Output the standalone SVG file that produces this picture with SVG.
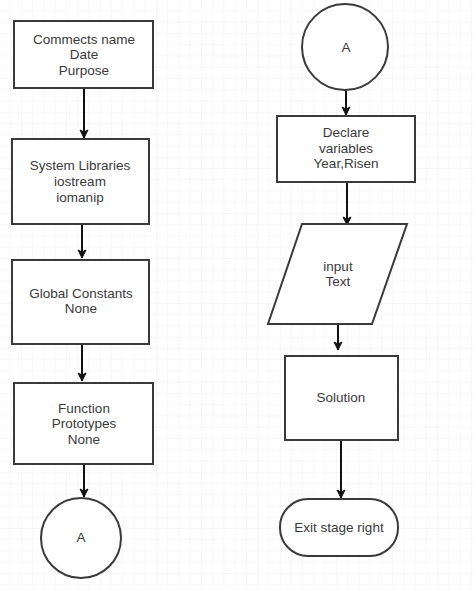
<svg xmlns="http://www.w3.org/2000/svg" width="474" height="590" viewBox="0 0 474 590">
<defs>
<pattern id="grid" width="11.25" height="11.25" patternUnits="userSpaceOnUse" x="9.75" y="10.5">
<path d="M0 0H11.25M0 0V11.25" fill="none" stroke="#efeff8" stroke-width="1"/>
</pattern>
<marker id="arr" markerWidth="10" markerHeight="10" refX="9" refY="5" orient="auto" markerUnits="userSpaceOnUse">
<path d="M1 1 L9 5 L1 9 L3 5 Z" fill="#111" stroke="#111" stroke-width="1" stroke-linejoin="round"/>
</marker>
</defs>
<style>
.n{fill:#fff;stroke:#3a3a3a;stroke-width:2}
.t{font-family:"Liberation Sans",Arial,sans-serif;font-size:13.5px;fill:#3a3a3a;text-anchor:middle}
.c{fill:none;stroke:#111;stroke-width:2;marker-end:url(#arr)}
</style>
<rect width="474" height="590" fill="#fff"/>
<rect width="474" height="590" fill="url(#grid)"/>
<g id="connectors">
<path class="c" d="M84 88V138"/>
<path class="c" d="M82 224V258"/>
<path class="c" d="M82 344V381"/>
<path class="c" d="M84 464V497"/>
<path class="c" d="M346 90V115"/>
<path class="c" d="M347 182V225"/>
<path class="c" d="M338 324V350"/>
<path class="c" d="M341 440V498"/>
</g>
<g id="n1"><rect class="n" x="14" y="21" width="139" height="67"/>
<text class="t" x="84" y="44">Commects name</text><text class="t" x="84" y="59">Date</text><text class="t" x="84" y="75">Purpose</text></g>
<g id="n2"><rect class="n" x="12" y="139" width="137" height="85"/>
<text class="t" x="80" y="170">System Libraries</text><text class="t" x="80" y="186">iostream</text><text class="t" x="80" y="202">iomanip</text></g>
<g id="n3"><rect class="n" x="12" y="260" width="137" height="84"/>
<text class="t" x="81" y="298">Global Constants</text><text class="t" x="81" y="313">None</text></g>
<g id="n4"><rect class="n" x="14" y="383" width="139" height="81"/>
<text class="t" x="84" y="413">Function</text><text class="t" x="84" y="428">Prototypes</text><text class="t" x="84" y="444">None</text></g>
<g id="n5"><circle class="n" cx="81" cy="538" r="40"/>
<text class="t" x="81" y="542">A</text></g>
<g id="n6"><circle class="n" cx="345" cy="47" r="43"/>
<text class="t" x="346" y="52">A</text></g>
<g id="n7"><rect class="n" x="277" y="116" width="138" height="66"/>
<text class="t" x="346" y="137">Declare</text><text class="t" x="346" y="153">variables</text><text class="t" x="346" y="168">Year,Risen</text></g>
<g id="n8"><polygon class="n" points="302,224 407,224 372,324 268,324"/>
<text class="t" x="338" y="271">input</text><text class="t" x="338" y="286">Text</text></g>
<g id="n9"><rect class="n" x="285" y="356" width="113" height="84"/>
<text class="t" x="341" y="402">Solution</text></g>
<g id="n10"><rect class="n" x="280" y="499" width="118" height="57" rx="28" ry="28"/>
<text class="t" x="339" y="532">Exit stage right</text></g>
</svg>
